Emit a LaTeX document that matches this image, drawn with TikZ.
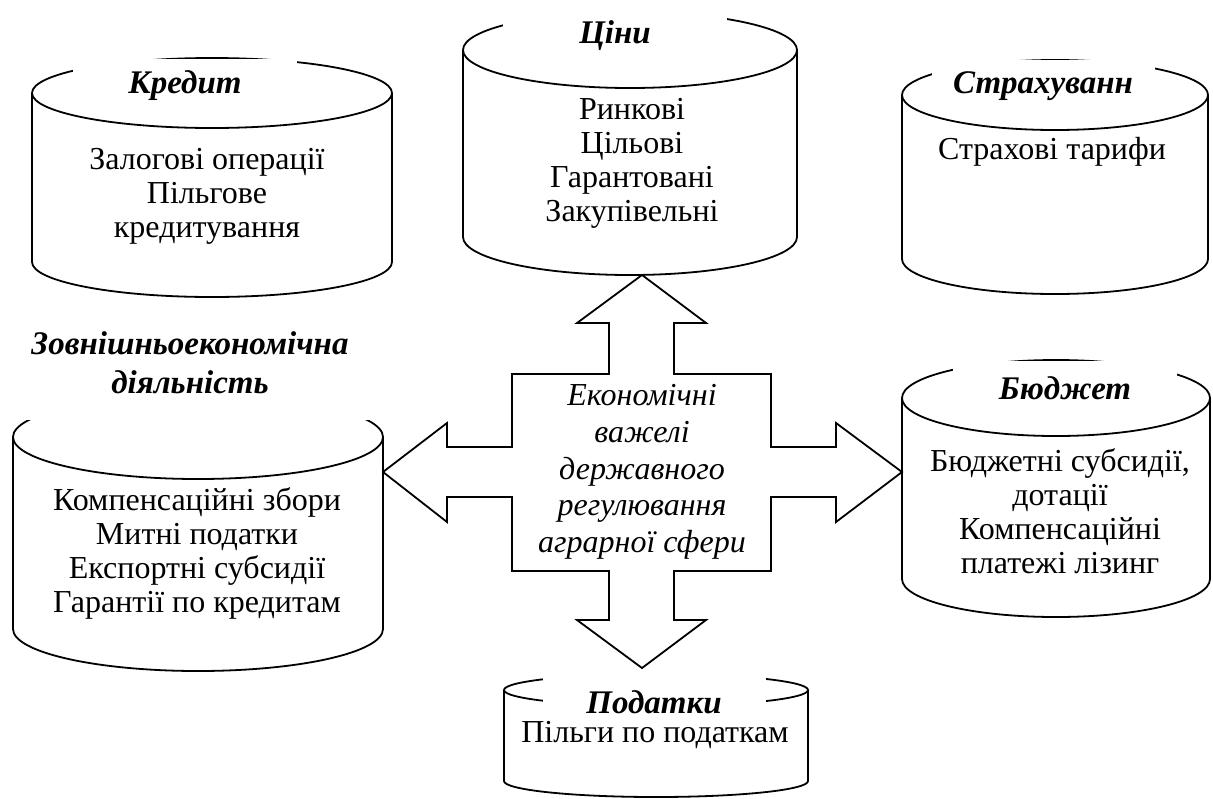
\documentclass[tikz,border=0pt]{standalone}
\usepackage{fontspec}
\setmainfont{Liberation Serif}
\usepackage{tikz}

\tikzset{
  drum/.style={line width=0.9pt},
  heading/.style={fill=white, inner sep=0pt, align=center,
    font=\fontsize{16.5}{19.5}\selectfont\bfseries\itshape},
  body/.style={align=center, inner sep=1pt, font=\fontsize{16}{17}\selectfont},
}

% cylinder: centre x, half width, top y, bottom y, depth (pixels, y down)
\newcommand{\drum}[5]{%
  \draw[drum] (#1,-#3) ellipse [x radius=#2, y radius=#5];
  \draw[drum] (#1-#2,-#3) -- (#1-#2,-#4)
    arc [start angle=180, end angle=360, x radius=#2, y radius=#5] -- (#1+#2,-#3);
}

\begin{document}
\begin{tikzpicture}[x=0.5pt, y=0.5pt]
    \useasboundingbox (0,0) rectangle (1213,-798);

    \drum{212}{180}{93}{262}{35}
    \drum{630}{167}{50}{237}{38}
    \drum{1055}{153}{95}{259}{35}
    \drum{198}{185}{437}{629}{42}
    \drum{1056}{154}{398}{579}{38}
    \drum{656}{152}{690}{781}{16}

    \node[heading, minimum width=112pt, minimum height=27pt] (kredyt) at (185,-86) {Кредит};
    \node[heading, minimum width=112pt, minimum height=28pt] (tsiny) at (615,-36) {Ціни};
    \node[heading, minimum width=111.5pt, minimum height=26pt] (strakh) at (1043,-86) {Страхуванн};
    \node[heading, minimum width=178.5pt, minimum height=57pt] (zed) at (190,-363) {Зовнішньоекономічна\\діяльність};
    \node[heading, minimum width=112pt, minimum height=27pt] (biudzhet) at (1065,-388) {Бюджет};
    \fill[white] (543,-670) rectangle (766,-713);
    \node[heading, fill=none] (podatky) at (654,-702) {Податки};

    \node[body] (kredytlist) at (207,-196) {Залогові операції\\Пільгове\\кредитування};
    \node[body] (tsinylist) at (632,-163) {Ринкові\\Цільові\\Гарантовані\\Закупівельні};
    \node[body] (strakhlist) at (1052,-152) {Страхові тарифи};
    \node[body] (zedlist) at (197,-553) {Компенсаційні збори\\Митні податки\\Експортні субсидії\\Гарантії по кредитам};
    \node[body] (biudzhetlist) at (1060,-511) {Бюджетні субсидії,\\дотації\\Компенсаційні\\платежі лізинг};
    \node[body] (podatkylist) at (655,-735) {Пільги по податкам};

    % cross-shaped block arrow
    \draw[drum, fill=white] (642,-275) -- (706,-323) -- (674,-323) -- (674,-374)
      -- (771,-374) -- (771,-447) -- (836,-447) -- (836,-423) -- (902,-472)
      -- (836,-522) -- (836,-497) -- (771,-497) -- (771,-571) -- (674,-571)
      -- (674,-620) -- (706,-620) -- (642,-668) -- (577,-620) -- (609,-620)
      -- (609,-571) -- (512,-571) -- (512,-497) -- (447,-497) -- (447,-522)
      -- (383,-472) -- (447,-423) -- (447,-447) -- (512,-447) -- (512,-374)
      -- (609,-374) -- (609,-323) -- (577,-323) -- cycle;

    \node[align=center, font=\fontsize{16}{18.3}\selectfont\itshape] (levers) at (642,-472)
      {Економічні\\важелі\\державного\\регулювання\\аграрної сфери};
\end{tikzpicture}
\end{document}
